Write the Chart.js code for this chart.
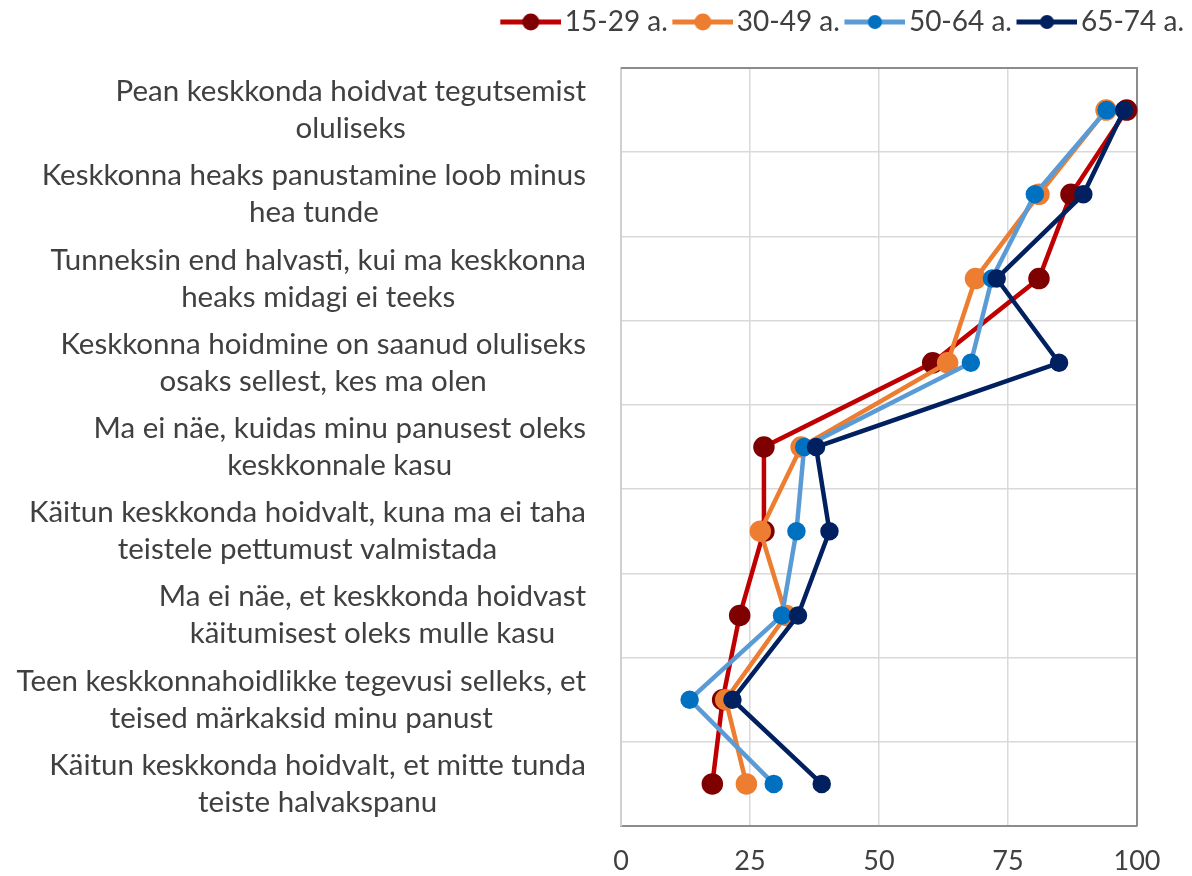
<!DOCTYPE html>
<html><head><meta charset="utf-8">
<script src="https://cdn.jsdelivr.net/npm/chart.js@4.4.1/dist/chart.umd.min.js"></script>
<style>html,body{margin:0;padding:0;background:#fff}#wrap{width:1192px;height:876px}</style>
</head><body><div id="wrap"><canvas id="c" width="1192" height="876"></canvas></div>
<script>
const categories = [
  ["Pean keskkonda hoidvat tegutsemist", "oluliseks"],
  ["Keskkonna heaks panustamine loob minus", "hea tunde"],
  ["Tunneksin end halvasti, kui ma keskkonna", "heaks midagi ei teeks"],
  ["Keskkonna hoidmine on saanud oluliseks", "osaks sellest, kes ma olen"],
  ["Ma ei näe, kuidas minu panusest oleks", "keskkonnale kasu"],
  ["Käitun keskkonda hoidvalt, kuna ma ei taha", "teistele pettumust valmistada"],
  ["Ma ei näe, et keskkonda hoidvast", "käitumisest oleks mulle kasu"],
  ["Teen keskkonnahoidlikke tegevusi selleks, et", "teised märkaksid minu panust"],
  ["Käitun keskkonda hoidvalt, et mitte tunda", "teiste halvakspanu"]
];
const seriesNames = ["15-29 a.", "30-49 a.", "50-64 a.", "65-74 a."];
const v1529 = [98.0, 87.2, 81.0, 60.4, 27.7, 27.7, 23.0, 19.7, 17.7];
const v3049 = [94.0, 81.0, 68.7, 63.3, 34.9, 27.0, 32.0, 20.3, 24.3];
const v5064 = [94.1, 80.2, 71.9, 67.8, 35.5, 34.0, 31.2, 13.3, 29.6];
const v6574 = [97.5, 89.6, 72.8, 84.9, 37.8, 40.4, 34.3, 21.6, 38.9];
const xTicks = [0, 25, 50, 75, 100];

const FONT = 'Lato, "Liberation Sans", sans-serif';
const TXT = '#404040';
const lineColors = ['#C00000', '#ED7D31', '#5B9BD5', '#002060'];
const pointColors = ['#7F0000', '#ED7D31', '#0070C0', '#002060'];
const pointRadius = [8.5, 8.5, 7, 7];
const values = [v1529, v3049, v5064, v6574];

function legendImg(lc, pc, r) {
  const c = document.createElement('canvas');
  c.width = 68; c.height = 20;
  const g = c.getContext('2d');
  g.strokeStyle = lc; g.lineWidth = 5;
  g.beginPath(); g.moveTo(7, 10); g.lineTo(68, 10); g.stroke();
  g.fillStyle = pc; g.beginPath(); g.arc(37.5, 10, r, 0, Math.PI * 2); g.fill();
  return c;
}
const legendImgs = seriesNames.map((s, i) => legendImg(lineColors[i], pointColors[i], pointRadius[i]));

const yLabelPlugin = {
  id: 'yLabels',
  afterDraw(chart) {
    const ctx = chart.ctx, ys = chart.scales.y, area = chart.chartArea;
    ctx.save();
    ctx.font = '29.5px ' + FONT;
    ctx.fillStyle = TXT;
    ctx.textAlign = 'center';
    ctx.textBaseline = 'middle';
    const lh = 37;
    const right = area.left - 35;
    categories.forEach((lines, i) => {
      const y = ys.getPixelForValue(i);
      const w = Math.max(...lines.map(l => ctx.measureText(l).width));
      const cx = right - w / 2;
      const y0 = y - (lines.length - 1) * lh / 2;
      lines.forEach((l, k) => ctx.fillText(l, cx, y0 + k * lh));
    });
    ctx.restore();
  }
};
const framePlugin = {
  id: 'frame',
  beforeDatasetsDraw(chart) {
    const ctx = chart.ctx, a = chart.chartArea;
    ctx.save();
    ctx.strokeStyle = '#8c8c8c'; ctx.lineWidth = 2;
    ctx.beginPath();
    ctx.moveTo(a.left, a.top); ctx.lineTo(a.right, a.top); ctx.lineTo(a.right, a.bottom);
    ctx.stroke();
    ctx.restore();
  }
};

new Chart(document.getElementById('c'), {
  type: 'line',
  data: {
    labels: categories.map(c => c.join(' ')),
    datasets: seriesNames.map((name, i) => ({
      label: name,
      data: values[i],
      borderColor: lineColors[i],
      backgroundColor: pointColors[i],
      pointBackgroundColor: pointColors[i],
      pointBorderColor: pointColors[i],
      pointRadius: pointRadius[i],
      pointHoverRadius: pointRadius[i],
      borderWidth: 4.5,
      tension: 0,
      clip: false,
      order: 3 - i
    }))
  },
  options: {
    indexAxis: 'y',
    responsive: false,
    devicePixelRatio: 1,
    animation: false,
    layout: { padding: { top: 0, right: 0, left: 0, bottom: 0 } },
    plugins: {
      tooltip: { enabled: false },
      legend: {
        position: 'top',
        align: 'end',
        labels: {
          usePointStyle: true,
          pointStyleWidth: 47,
          boxHeight: 20,
          padding: 8,
          color: TXT,
          font: { family: FONT, size: 28 },
          generateLabels: (chart) => chart.data.datasets.map((ds, i) => ({
            text: ds.label,
            pointStyle: legendImgs[i],
            fillStyle: pointColors[i],
            strokeStyle: lineColors[i],
            lineWidth: 0,
            hidden: false,
            datasetIndex: i,
            fontColor: TXT
          }))
        }
      }
    },
    scales: {
      x: {
        type: 'linear',
        min: 0, max: 100,
        afterBuildTicks: (s) => { s.ticks = xTicks.map(v => ({ value: v })); },
        ticks: { color: TXT, font: { family: FONT, size: 27 }, padding: 19 },
        grid: { color: '#d9d9d9', lineWidth: 1.5, drawTicks: false },
        border: { color: '#8c8c8c', width: 2 },
        afterFit: (s) => { s.height = 50; s.paddingRight = 55; }
      },
      xTop: {
        type: 'linear',
        position: 'top',
        min: 0, max: 100,
        ticks: { display: false },
        grid: { display: false },
        border: { display: false },
        afterFit: (s) => { s.height = 22; }
      },
      y: {
        type: 'category',
        offset: true,
        ticks: { display: false },
        grid: { color: '#d9d9d9', lineWidth: 1.5, offset: true, drawTicks: false },
        border: { color: '#d0d0d0', width: 2 },
        afterFit: (s) => { s.width = 621; }
      }
    }
  },
  plugins: [yLabelPlugin, framePlugin]
});
</script>
</body></html>
